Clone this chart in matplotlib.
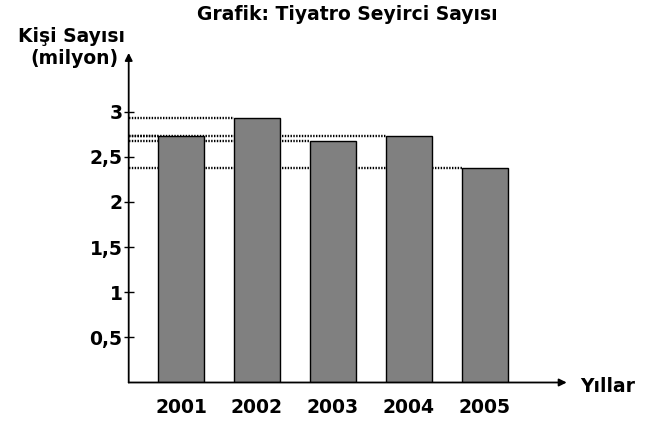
import matplotlib
matplotlib.use("Agg")
import matplotlib.pyplot as plt

years = ["2001", "2002", "2003", "2004", "2005"]
audience = [2.73, 2.93, 2.67, 2.73, 2.37]
yticks = [0.5, 1, 1.5, 2, 2.5, 3]
ytick_labels = ["0,5", "1", "1,5", "2", "2,5", "3"]

# the reference text is a wide bold sans; DejaVu Sans Bold matches its proportions
plt.rcParams["font.family"] = ["DejaVu Sans"]
plt.rcParams["font.weight"] = "bold"

W, H = 669, 428
FS = 13.5
fig = plt.figure(figsize=(W / 100, H / 100), dpi=100)

# axes placed in pixel terms: y axis at x=128.7, x axis at y=382.5 (from top)
x0, x1 = -0.688, 5.075
y0, y1 = 0, 3.65
ax = fig.add_axes([128.7 / W, (H - 382.5) / H, (566.7 - 128.7) / W, 3.65 * 90.3 / H])
ax.set_xlim(x0, x1)
ax.set_ylim(y0, y1)

bw = 0.605
xs = list(range(len(years)))
ax.bar(xs, audience, width=bw, color="#808080", edgecolor="black", linewidth=1.0, zorder=3)

# dotted guide lines from the y axis to each bar's top-left corner
for x, v in zip(xs, audience):
    ax.plot([x0, x - bw / 2], [v, v], color="black", lw=1.7,
            linestyle=(0, (0.6, 0.6)), zorder=2, clip_on=False)

for s in ["top", "right", "left", "bottom"]:
    ax.spines[s].set_visible(False)

# axes with arrowheads
ax.annotate("", xy=(x1, 0), xytext=(x0, 0),
            arrowprops=dict(arrowstyle="-|>", color="black", lw=1.3,
                            mutation_scale=11, shrinkA=0, shrinkB=0),
            annotation_clip=False)
ax.annotate("", xy=(x0, y1), xytext=(x0, 0),
            arrowprops=dict(arrowstyle="-|>", color="black", lw=1.3,
                            mutation_scale=11, shrinkA=0, shrinkB=0),
            annotation_clip=False)

ax.set_yticks(yticks)
ax.set_yticklabels(ytick_labels, fontsize=FS, fontweight="bold")
ax.tick_params(axis="y", direction="inout", length=7, width=1, pad=1)
ax.set_xticks(xs)
ax.set_xticklabels(years, fontsize=FS, fontweight="bold")
ax.tick_params(axis="x", length=0, pad=11)

fig.text(347 / W, 1 - 14 / H, "Grafik: Tiyatro Seyirci Sayısı", ha="center", va="center",
         fontsize=FS, fontweight="bold")
fig.text(71 / W, 1 - 36 / H, "Kişi Sayısı", ha="center", va="center",
         fontsize=FS, fontweight="bold")
fig.text(119 / W, 1 - 59 / H, "(milyon)", ha="right", va="center",
         fontsize=FS, fontweight="bold")
fig.text(580 / W, 1 - 387 / H, "Yıllar", ha="left", va="center",
         fontsize=FS, fontweight="bold")

fig.savefig("out.png", dpi=100)
